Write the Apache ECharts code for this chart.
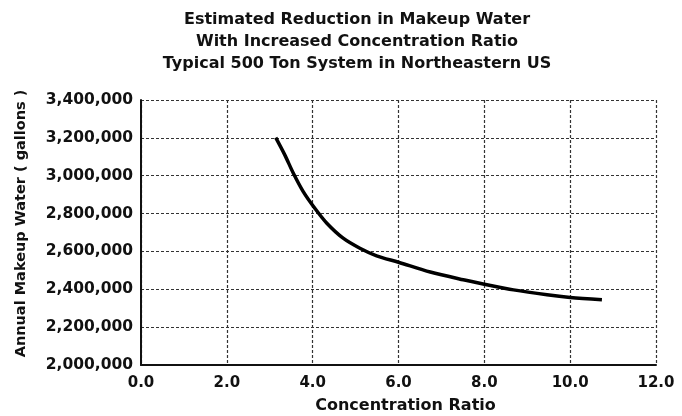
<!DOCTYPE html>
<html><head><meta charset="utf-8">
<script src="https://cdn.jsdelivr.net/npm/echarts@6/dist/echarts.min.js"></script>
<style>html,body{margin:0;padding:0;background:#fff}#c{width:682px;height:416px}</style>
</head><body><div id="c"></div>
<script>
var titleLines = ['Estimated Reduction in Makeup Water', 'With Increased Concentration Ratio', 'Typical 500 Ton System in Northeastern US'];
var xName = 'Concentration Ratio';
var yName = 'Annual Makeup Water ( gallons )';
var concRatio = [3.14, 3.35, 3.55, 3.78, 4.05, 4.33, 4.71, 5.10, 5.49, 6.0, 6.74, 7.51, 8.0, 8.68, 9.46, 10.0, 10.74];
var makeupWater = [3201000, 3110000, 3013000, 2916000, 2828000, 2749000, 2670000, 2617000, 2577000, 2543000, 2491000, 2450000, 2427000, 2397000, 2371000, 2357000, 2345000];
var xTicks = [0, 2, 4, 6, 8, 10, 12];
var yTicks = [2000000, 2200000, 2400000, 2600000, 2800000, 3000000, 3200000, 3400000];

var FONT = 'DejaVu Sans';
var chart = echarts.init(document.getElementById('c'), null, {renderer: 'canvas'});
chart.setOption({
  animation: false,
  backgroundColor: '#fff',
  title: {
    text: titleLines.join('\n'),
    left: 352, top: 4, textAlign: 'center',
    textStyle: {fontFamily: FONT, fontSize: 16, fontWeight: 'bold', color: '#111', lineHeight: 22, align: 'center'}
  },
  grid: {left: 141, right: 26, top: 100, bottom: 51, show: false, outerBoundsMode: 'none', containLabel: false},
  xAxis: {
    type: 'value', min: xTicks[0], max: xTicks[xTicks.length - 1], interval: 2,
    name: xName, nameLocation: 'middle', nameGap: 33,
    nameTextStyle: {fontFamily: FONT, fontSize: 16, fontWeight: 'bold', color: '#111', padding: [0, 0, 0, 14]},
    axisLine: {show: true, onZero: false, lineStyle: {color: '#111', width: 2}},
    axisTick: {show: false},
    axisLabel: {fontFamily: FONT, fontSize: 15, fontWeight: 'bold', color: '#111', margin: 11, formatter: function (v) { return v.toFixed(1); }},
    splitLine: {show: true, lineStyle: {color: '#333', width: 1.2, type: [3, 2]}}
  },
  yAxis: {
    type: 'value', min: yTicks[0], max: yTicks[yTicks.length - 1], interval: 200000,
    name: yName, nameLocation: 'middle', nameGap: 112, nameRotate: 90,
    nameTextStyle: {fontFamily: FONT, fontSize: 14.5, fontWeight: 'bold', color: '#111', padding: [0, 0, 0, 18]},
    axisLine: {show: true, lineStyle: {color: '#111', width: 2}},
    axisTick: {show: false},
    axisLabel: {fontFamily: FONT, fontSize: 15.5, fontWeight: 'bold', color: '#111', margin: 8, formatter: function (v) { return v.toLocaleString('en-US'); }},
    splitLine: {show: true, lineStyle: {color: '#333', width: 1.2, type: [3, 2]}}
  },
  series: [{
    type: 'line', smooth: 0.3, showSymbol: false,
    lineStyle: {color: '#000', width: 3.5},
    data: concRatio.map(function (x, i) { return [x, makeupWater[i]]; })
  }]
});
</script></body></html>
